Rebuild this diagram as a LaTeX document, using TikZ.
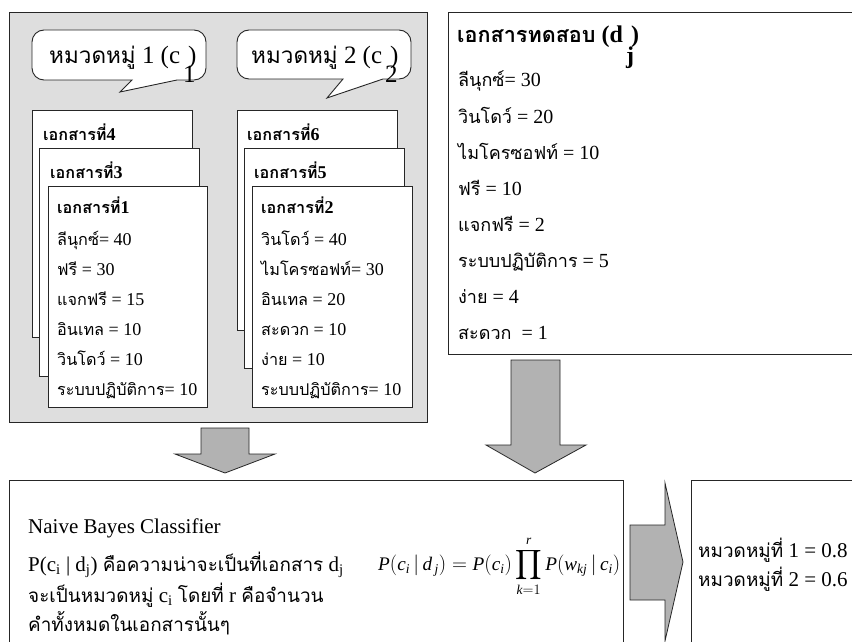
\documentclass[tikz,border=0pt]{standalone}
\usepackage{amsmath}
\usepackage{fontspec}
\setmainfont{Liberation Serif}
\newfontfamily\thai[Script=Thai,Scale=0.9]{Loma}
\newcommand\T[1]{{\thai #1}}
\begin{document}
\begin{tikzpicture}[x=1pt,y=-1pt,
  frame/.style={draw=black!85, line width=0.9pt},
  gbox/.style={frame, fill=black!13, anchor=north west, inner sep=0pt},
  wbox/.style={frame, fill=white, anchor=north west, inner sep=0pt},
  blockarrow/.style={draw=black!85, fill=black!30, line width=0.8pt, line join=miter},
  bubble/.style={draw=black!85, fill=white, line width=0.9pt},
  txt/.style={anchor=base west, inner sep=0pt, font=\fontsize{18}{20}\selectfont},
  ttxt/.style={anchor=base west, inner sep=0pt, font=\fontsize{20}{22}\selectfont},
  hd/.style={txt, font=\fontsize{18}{20}\selectfont\bfseries},
  big/.style={anchor=base west, inner sep=0pt, font=\fontsize{21}{24}\selectfont},
]
\useasboundingbox (0,0) rectangle (852,642);
\clip (0,0) rectangle (852,642);
\fill[white] (0,0) rectangle (852,642);

% gray training frame
\node[gbox, minimum width=418pt, minimum height=410pt] (train) at (9,12) {};

% speech bubbles
\draw[bubble] (32,55) [rounded corners=12pt] -- (32,30) -- (206,30) -- (206,80) [sharp corners] -- (177,80) -- (120,92) -- (132,80) [rounded corners=12pt] -- (32,80) -- cycle;
\draw[bubble] (237,55) [rounded corners=12pt] -- (237,30) -- (411,30) -- (411,79) [sharp corners] -- (383,79) -- (327,98) -- (343,79) [rounded corners=12pt] -- (237,79) -- cycle;
\node[anchor=base west, inner sep=0pt, font=\fontsize{25}{28}\selectfont] (c1) at (49,64) {\T{หมวดหมู่} 1 (c\hspace{3pt}\rlap{\raisebox{-18pt}{1}}\hspace{5pt})};
\node[anchor=base west, inner sep=0pt, font=\fontsize{25}{28}\selectfont] (c2) at (251,64) {\T{หมวดหมู่} 2 (c\hspace{3pt}\rlap{\raisebox{-18pt}{2}}\hspace{5pt})};

% documents, category 1
\node[wbox, minimum width=160pt, minimum height=227pt] (d4) at (32,110) {};
\node[hd] (d4t) at (43,140) {\T{เอกสารที่}4};
\node[wbox, minimum width=160pt, minimum height=228pt] (d3) at (39,148) {};
\node[hd] (d3t) at (50,178) {\T{เอกสารที่}3};
\node[wbox, minimum width=159pt, minimum height=221pt] (d1) at (48,186) {};
\node[hd] (d1t) at (57,213) {\T{เอกสารที่}1};
\node[txt] (d1a) at (57,245) {\T{ลีนุกซ์}= 40};
\node[txt] (d1b) at (57,275) {\T{ฟรี} = 30};
\node[txt] (d1c) at (57,305) {\T{แจกฟรี} = 15};
\node[txt] (d1d) at (57,335) {\T{อินเทล} = 10};
\node[txt] (d1e) at (57,365) {\T{วินโดว์} = 10};
\node[txt] (d1f) at (57,395) {\T{ระบบปฏิบัติการ}= 10};

% documents, category 2
\node[wbox, minimum width=160pt, minimum height=220pt] (d6) at (237,110) {};
\node[hd] (d6t) at (247,140) {\T{เอกสารที่}6};
\node[wbox, minimum width=160pt, minimum height=220pt] (d5) at (244,148) {};
\node[hd] (d5t) at (254,178) {\T{เอกสารที่}5};
\node[wbox, minimum width=160pt, minimum height=221pt] (d2) at (252,186) {};
\node[hd] (d2t) at (261,213) {\T{เอกสารที่}2};
\node[txt] (d2a) at (261,245) {\T{วินโดว์} = 40};
\node[txt] (d2b) at (261,275) {\T{ไมโครซอฟท์}= 30};
\node[txt] (d2c) at (261,305) {\T{อินเทล} = 20};
\node[txt] (d2d) at (261,335) {\T{สะดวก} = 10};
\node[txt] (d2e) at (261,365) {\T{ง่าย} = 10};
\node[txt] (d2f) at (261,395) {\T{ระบบปฏิบัติการ}= 10};

% test document
\node[wbox, minimum width=430pt, minimum height=342pt] (test) at (448,12) {};
\node[anchor=base west, inner sep=0pt, font=\fontsize{24}{26}\selectfont\bfseries] (tt) at (457,43) {\T{เอกสารทดสอบ} (d\hspace{3pt}\rlap{\raisebox{-21pt}{j}}\hspace{5pt})};
\node[ttxt] (ta) at (458,87) {\T{ลีนุกซ์}= 30};
\node[ttxt] (tb) at (458,123) {\T{วินโดว์} = 20};
\node[ttxt] (tc) at (458,159) {\T{ไมโครซอฟท์} = 10};
\node[ttxt] (td) at (458,195) {\T{ฟรี} = 10};
\node[ttxt] (te) at (458,231) {\T{แจกฟรี} = 2};
\node[ttxt] (tf) at (458,267) {\T{ระบบปฏิบัติการ} = 5};
\node[ttxt] (tg) at (458,303) {\T{ง่าย} = 4};
\node[ttxt] (th) at (458,339) {\T{สะดวก}\ \ = 1};

% block arrows down
\draw[blockarrow] (201,428) -- (249,428) -- (249,454) -- (275,454) -- (225,473) -- (175,454) -- (201,454) -- cycle;
\draw[blockarrow] (511,360) -- (560,360) -- (560,445) -- (586,445) -- (535,473) -- (486,445) -- (511,445) -- cycle;

% classifier box
\node[wbox, minimum width=614pt, minimum height=180pt] (nb) at (9,480) {};
\node[big] (nb1) at (28,533) {Naive Bayes Classifier};
\node[big] (nb2) at (28,571) {P(c\textsubscript{i} | d\textsubscript{j}) \T{คือความน่าจะเป็นที่เอกสาร} d\textsubscript{j}};
\node[big] (nb3) at (28,602) {\T{จะเป็นหมวดหมู่} c\textsubscript{i} \T{โดยที่} r \T{คือจำนวน}};
\node[big] (nb4) at (28,631) {\T{คำทั้งหมดในเอกสารนั้นๆ}};
\node[anchor=west, inner sep=0pt, font=\fontsize{19.2}{22}\selectfont] (formula) at (378,566)
  {$\mathit{P}(\mathit{c}_{\mathit{i}}\,|\,\mathit{d}_{\,\mathit{j}}) = \mathit{P}(\mathit{c}_{\mathit{i}})\displaystyle\prod_{\mathit{k}=1}^{\mathit{r}}\mathit{P}(\mathit{w}_{\mathit{kj}}\,|\,\mathit{c}_{\mathit{i}})$};

% arrow right
\draw[blockarrow] (630,525) -- (665,525) -- (665,483) -- (683,562) -- (665,641) -- (665,600) -- (630,600) -- cycle;

% result box
\node[wbox, minimum width=190pt, minimum height=180pt] (res) at (691,480) {};
\node[big] (r1) at (698,557) {\T{หมวดหมู่ที่} 1 = 0.8};
\node[big] (r2) at (698,586) {\T{หมวดหมู่ที่} 2 = 0.6};
\end{tikzpicture}
\end{document}
